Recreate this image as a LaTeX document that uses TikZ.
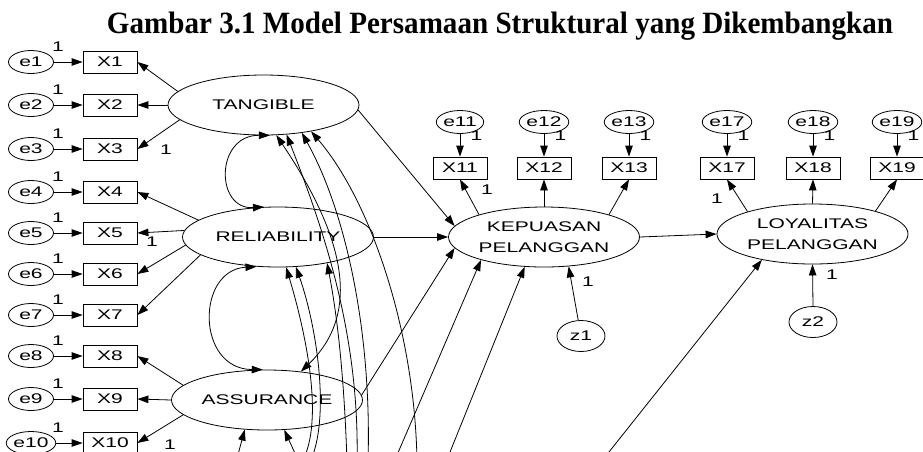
\documentclass[tikz,border=0pt]{standalone}
\usepackage{graphicx}
\usepackage{fontspec}
\setmainfont{Liberation Serif}
\newfontfamily\diagfont[FakeStretch=1.5]{Liberation Sans}
\usetikzlibrary{arrows.meta,shapes.geometric}

\begin{document}
\begin{tikzpicture}[x=1pt,y=-1pt,
  every node/.style={font=\diagfont\fontsize{14}{21}\selectfont, inner sep=0pt, align=center},
  latent/.style={draw, ellipse, line width=0.8pt, minimum width=191pt, minimum height=60pt},
  err/.style={draw, ellipse, line width=0.8pt, minimum width=45pt, minimum height=23pt},
  dist/.style={draw, ellipse, line width=0.8pt, minimum width=48pt, minimum height=31pt},
  obs/.style={draw, rectangle, line width=0.8pt, minimum width=54pt, minimum height=22pt},
  link/.style={line width=0.8pt, -{Triangle[length=11pt,width=7.5pt]}},
  cov/.style={line width=0.8pt, {Triangle[length=11pt,width=7.5pt]}-{Triangle[length=11pt,width=7.5pt]}},
  ttl/.style={font=\rmfamily\bfseries\fontsize{29}{30}\selectfont, anchor=base},
]
\useasboundingbox (0,0) rectangle (923,451);
\clip (0,0) rectangle (923,451);

% heading
\node[ttl] (title) at (500,33) {\resizebox{786pt}{21.5pt}{Gambar 3.1 Model Persamaan Struktural yang Dikembangkan}};

% exogenous constructs
\node[latent] (TANG) at (263.5,105) {TANGIBLE};
\node[latent] (REL)  at (278,237)   {RELIABILITY};
\node[latent] (ASS)  at (267,400)   {ASSURANCE};

% endogenous constructs
\node[latent] (KEP) at (544,237)   {KEPUASAN\\PELANGGAN};
\node[latent] (LOY) at (812.5,234) {LOYALITAS\\PELANGGAN};

% indicators X1..X10 with their error terms
\foreach \i/\yy in {1/62,2/105,3/149,4/192,5/233,6/274,7/315,8/356,9/399,10/443}{
  \node[err] (e\i) at (31,\yy) {e\i};
  \node[obs] (X\i) at (110,\yy) {X\i};
  \draw[link] (e\i) -- (X\i);
  \node (w\i) at ([shift={(27,-15)}]e\i.center) {1};
}

% indicators of KEPUASAN and LOYALITAS
\foreach \i/\xx in {11/460,12/544,13/629,17/727,18/813,19/897}{
  \node[obs] (X\i) at (\xx,168) {X\i};
  \node[err] (e\i) at (\xx,122) {e\i};
  \draw[link] (e\i) -- (X\i);
  \node (w\i) at ([shift={(16.5,13.5)}]e\i.center) {1};
}

% disturbances
\node[dist] (z1) at (581,336) {z1};
\node[dist] (z2) at (813,322) {z2};

% loadings
\draw[link] (TANG.171) -- (X1.east);
\draw[link] (TANG.180) -- (X2.east);
\draw[link] (TANG.190) -- (X3.east);
\draw[link] (REL.168) -- (X4.east);
\draw[link] (REL.176) -- (X5.east);
\draw[link] (REL.185) -- (X6.east);
\draw[link] (REL.193) -- (X7.east);
\draw[link] (ASS.170) -- (X8.east);
\draw[link] (ASS.180) -- (X9.east);
\draw[link] (ASS.190) -- (X10.east);
\draw[link] (KEP.161) -- (X11.south);
\draw[link] (KEP.90)  -- (X12.south);
\draw[link] (KEP.19)  -- (X13.south);
\draw[link] (LOY.161) -- (X17.south);
\draw[link] (LOY.90)  -- (X18.south);
\draw[link] (LOY.20)  -- (X19.south);

% fixed loadings
\node (f3)  at (166,150) {1};
\node (f5)  at (152,242) {1};
\node (f10) at (170,445) {1};
\node (f11) at (487,190) {1};
\node (f17) at (717,199) {1};
\node (fz1) at (588,282) {1};
\node (fz2) at (832,275) {1};

% structural paths
\draw[link] (TANG.357) -- (KEP.173);
\draw[link] (REL.0) -- (KEP.180);
\draw[link] (ASS.3) -- (KEP.187);
\draw[link] (KEP.0) -- (LOY.180);
\draw[link] (z1.100) -- (KEP.310);
\draw[link] (z2.90) -- (LOY.270);

% paths entering from constructs further down
\coordinate (bA) at (394,462);
\coordinate (bB) at (446,462);
\coordinate (bC) at (601,462);
\draw[link] (bA) -- (KEP.200);
\draw[link] (bB) -- (KEP.237);
\draw[link] (bC) -- (LOY.207);

% covariances among the exogenous constructs
\draw[cov] (REL.115) .. controls (215,210) and (215,135) .. (TANG.282);
\draw[cov] (REL.234) .. controls (196,270) and (196,369) .. (ASS.98);
\draw[cov] (TANG.293) .. controls (340,230) and (365,310) .. (ASS.40);

\coordinate (bT2) at (357,462);
\coordinate (bT3) at (368,462);
\coordinate (bT4) at (417,462);
\coordinate (bR1) at (302,462);
\coordinate (bR2) at (310,462);
\coordinate (bR3) at (347,462);
\coordinate (bA1) at (236,462);
\coordinate (bA2) at (299,462);
\draw[link] (bT2) .. controls (360,330) and (320,220) .. (TANG.308);
\draw[link] (bT3) .. controls (372,330) and (345,210) .. (TANG.324);
\draw[link] (bT4) .. controls (415,330) and (370,200) .. (TANG.331);
\draw[link] (bR1) .. controls (325,420) and (305,330) .. (REL.285);
\draw[link] (bR2) .. controls (330,420) and (318,330) .. (REL.301);
\draw[link] (bR3) .. controls (345,400) and (340,330) .. (REL.332);
\draw[link] (bA1) -- (ASS.233);
\draw[link] (bA2) -- (ASS.300);
\end{tikzpicture}
\end{document}
